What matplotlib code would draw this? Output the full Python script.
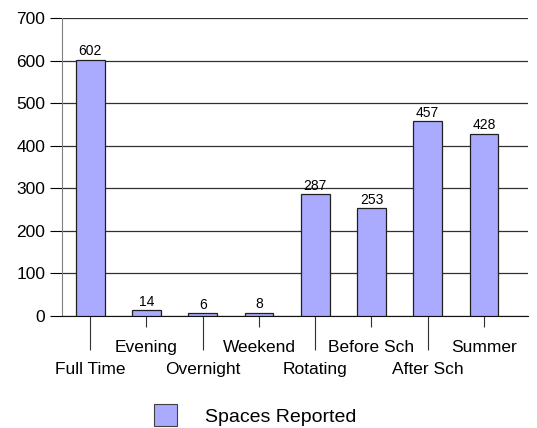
import matplotlib.pyplot as plt
from matplotlib.patches import Patch
from matplotlib.ticker import FixedLocator, FixedFormatter, MultipleLocator

plt.rcParams['font.family'] = ['Liberation Sans', 'DejaVu Sans']

categories = ['Full Time', 'Evening', 'Overnight', 'Weekend', 'Rotating',
              'Before Sch', 'After Sch', 'Summer']
values = [602, 14, 6, 8, 287, 253, 457, 428]
series_name = 'Spaces Reported'

bar_color = '#aaaaff'

fig = plt.figure(figsize=(5.37, 4.28), dpi=100)
ax = fig.add_axes([0.1155, 0.2617, 0.8675, 0.6963])

x = list(range(len(categories)))
bars = ax.bar(x, values, width=0.51, color=bar_color, edgecolor='#202020',
              linewidth=0.9, zorder=3)

# value labels above bars
for xi, v in zip(x, values):
    ax.text(xi, v + 3, str(v), ha='center', va='bottom', fontsize=10, zorder=4)

ax.set_ylim(0, 700)
ax.set_xlim(-0.5, 7.78)
ax.yaxis.set_major_locator(MultipleLocator(100))
ax.grid(axis='y', color='#303030', linewidth=0.9, zorder=0)
ax.set_axisbelow(True)

# staggered category labels: even indices low (long tick), odd indices high (short tick)
even = [i for i in x if i % 2 == 0]
odd = [i for i in x if i % 2 == 1]
ax.xaxis.set_major_locator(FixedLocator(even))
ax.xaxis.set_major_formatter(FixedFormatter([categories[i] for i in even]))
ax.xaxis.set_minor_locator(FixedLocator(odd))
ax.xaxis.set_minor_formatter(FixedFormatter([categories[i] for i in odd]))
ax.tick_params(axis='x', which='major', length=24.5, width=0.8, pad=8.5,
               labelsize=12.5, color='#303030')
ax.tick_params(axis='x', which='minor', length=8, width=0.8, pad=9,
               labelsize=12.5, color='#303030')
ax.tick_params(axis='y', length=9, width=0.8, labelsize=12.5, pad=3)

for side in ['top', 'right']:
    ax.spines[side].set_visible(False)
ax.spines['left'].set_color('#808080')
ax.spines['bottom'].set_color('#101010')

handle = Patch(facecolor=bar_color, edgecolor='#404040', linewidth=0.8)
fig.legend([handle], [series_name], loc='center', bbox_to_anchor=(0.475, 0.03),
           frameon=False, fontsize=14, handlelength=1.2, handleheight=1.4,
           handletextpad=1.4)

fig.savefig('out.png', dpi=100)
